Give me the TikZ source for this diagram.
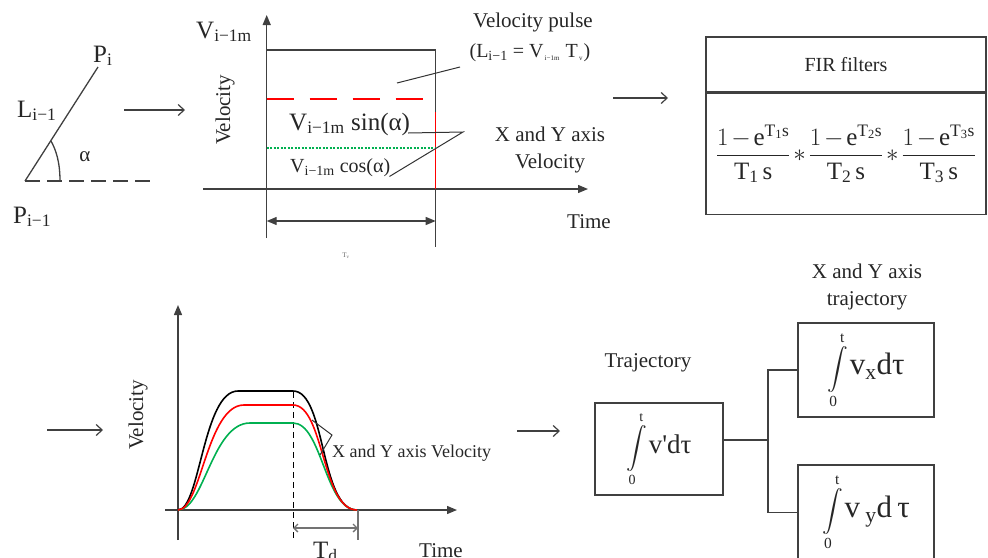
\RequirePackage{fix-cm}
\documentclass[tikz,border=0pt]{standalone}
\usepackage{amsmath}
\usepackage{fontspec}
\setmainfont{Liberation Serif}
\usetikzlibrary{arrows.meta}

\definecolor{velred}{RGB}{255,0,0}
\definecolor{velgreen}{RGB}{0,176,80}
\newcommand{\fs}[1]{\fontsize{#1}{\fpeval{1.25*#1}}\selectfont}
\newcommand{\tinysub}[1]{\raisebox{-0.3ex}{\fs{7}#1}}
\newcommand{\firfrac}[1]{\dfrac{1-\mathrm{e}^{\mathrm{T_{#1}s}}}{\mathrm{T_{#1}\,s}}}

\tikzset{
  ink/.style={draw=black!75, line width=1.3pt},
  axis/.style={ink, -{Triangle[length=10pt,width=8pt]}},
  dimline/.style={ink, {Triangle[length=10pt,width=8pt]}-{Triangle[length=10pt,width=8pt]}},
  flow/.style={draw=black!75, line width=1.2pt, -{Straight Barb[length=6pt,width=11pt]}},
  pointer/.style={draw=black!80, line width=1pt},
  box/.style={draw=black!75, line width=1.3pt, inner sep=0pt},
  curve/.style={line width=1.6pt},
}

\begin{document}
\begin{tikzpicture}[x=1pt, y=-1pt, every node/.style={inner sep=0pt, text=black!85}]
  \clip (0,0) rectangle (988,557);

  % --- segment P(i-1) -> P(i) ---
  \coordinate (pa) at (25,181);
  \coordinate (pb) at (98,67);
  \draw[ink] (pa) -- (pb);
  \draw[ink, dash pattern=on 15pt off 7pt] (pa) -- (153,181);
  \draw[ink] (60,181) .. controls (60,162) and (56,150) .. (51,141);
  \node[anchor=base west, font=\fs{25}] (pi) at (93,62) {P\textsubscript{i}};
  \node[anchor=base west, font=\fs{25}] (li) at (17,117) {L\textsubscript{i−1}};
  \node[font=\fs{21}] (alpha) at (85,157) {α};
  \node[anchor=base west, font=\fs{25}] (pprev) at (13,223) {P\textsubscript{i−1}};

  \draw[flow] (124,110) coordinate (a1s) -- (185,110) coordinate (a1e);

  % --- velocity pulse ---
  \draw[axis] (266.7,238) -- (266.7,15);
  \draw[axis] (203,189) -- (588,189);
  \draw[ink] (266.7,50) -- (435.7,50) -- (435.7,247);
  \draw[velred, line width=1.5pt, dash pattern=on 27pt off 16pt] (266.7,99) -- (432,99);
  \draw[velred, line width=1.5pt] (435.7,112) -- (435.7,189);
  \draw[velgreen, line width=1.3pt, dash pattern=on 2pt off 1.5pt] (266.7,148) -- (435.7,148);
  \draw[dimline] (266.7,221) -- (435.7,221);

  \node[anchor=base west, font=\fs{25}] (vmax) at (196,38) {V\textsubscript{i−1m}};
  \node[rotate=90, font=\fs{21}] (vlab1) at (225,110) {Velocity};
  \node[font=\fs{21}] (pulse) at (533,22) {Velocity pulse};
  \node[font=\fs{20}] (pulseeq) at (530,53) {(L\textsubscript{i−1} = V\tinysub{\,i−1m\,} T\tinysub{\,v\,})};
  \draw[pointer] (397,83) -- (460,67);
  \node[anchor=base west, font=\fs{25}] (vsin) at (289,130) {V\textsubscript{i−1m} sin(α)};
  \node[anchor=base west, font=\fs{20}] (vcos) at (290,172) {V\textsubscript{i−1m} cos(α)};
  \draw[pointer] ([xshift=-2pt,yshift=-3pt]vsin.base east) -- (463,132) -- ([xshift=-1pt]vcos.south east);
  \node[align=center, font=\fs{21}] (xyvel) at (550,150) {X and Y axis\\Velocity};
  \node[font=\fs{21}] (time1) at (589,222) {Time};
  \node[font=\fs{7}, text=black!60] (tv) at (346,256) {T\textsubscript{v}};

  \draw[flow] (613,98) coordinate (a2s) -- (668,98) coordinate (a2e);

  % --- FIR filters ---
  \node[box, minimum width=280, minimum height=55, font=\fs{20}] (firhead) at (846,64.5) {FIR filters};
  \node[box, minimum width=280, minimum height=121, anchor=north, font=\fs{25}] (firbody) at (firhead.south)
    {\medmuskip=2mu $\firfrac{1}*\firfrac{2}*\firfrac{3}$};

  \draw[flow] (47,430) coordinate (a3s) -- (103,430) coordinate (a3e);

  % --- filtered velocity ---
  \draw[axis] (178,540) -- (178,305);
  \draw[axis] (165,510) -- (457,510);
  \draw[black, line width=0.8pt, dash pattern=on 6pt off 4pt] (293,392) -- (293,540);
  \draw[black!55, line width=1.3pt] (358,510) -- (358,540);
  \draw[black!55, line width=1.3pt, {Straight Barb[length=4pt,width=8pt]}-{Straight Barb[length=4pt,width=8pt]}] (293,528) -- (358,528);
  \draw[curve, black] (178,510) .. controls (200,510) and (203,391) .. (238,391) -- (293,391)
    .. controls (326,391) and (320,510) .. (357,510);
  \draw[curve, velgreen] (178,510) .. controls (204,510) and (212,423) .. (250,423) -- (293,423)
    .. controls (322,423) and (325,510) .. (357,510);
  \draw[curve, velred] (178,510) .. controls (201,510) and (207,405) .. (244,405) -- (293,405)
    .. controls (324,405) and (322,510) .. (357,510);
  \node[rotate=90, font=\fs{21}] (vlab2) at (138,415) {Velocity};
  \node[anchor=west, font=\fs{18}] (xyvel2) at (332,453) {X and Y axis Velocity};
  \draw[pointer] (312,420) -- (332,435) -- (320,455);
  \node[anchor=base west, font=\fs{25}] (td) at (313,558) {T\textsubscript{d}};
  \node[anchor=base west, font=\fs{21}] (time2) at (419,557) {Time};

  \draw[flow] (517,431) coordinate (a4s) -- (560,431) coordinate (a4e);

  % --- trajectory ---
  \node[font=\fs{21}] (trajlab) at (648,363) {Trajectory};
  \node[box, minimum width=128, minimum height=92] (traj) at (659,449)
    {{\fs{20}$\displaystyle\int\limits_{\mathrm{0}}^{\mathrm{t}}$}\,{\fs{27}v\textquotesingle dτ}};
  \node[align=center, font=\fs{21}] (xylab) at (867,287) {X and Y axis\\trajectory};
  \node[box, minimum width=136, minimum height=94] (xtraj) at (866,370)
    {{\fs{22}$\displaystyle\int\limits_{\mathrm{0}}^{\mathrm{t}}$}\,{\fs{31}v\textsubscript{x}dτ}};
  \node[box, minimum width=136, minimum height=95] (ytraj) at (866,512.5)
    {{\fs{22}$\displaystyle\int\limits_{\mathrm{0}}^{\mathrm{t}}$}\,{\fs{31}v\,\textsubscript{y}d\,τ}};
  \coordinate (fork) at (768,440);
  \draw[ink] (traj.east |- fork) -- (fork);
  \draw[ink] (xtraj.west) -| (fork) |- (ytraj.west);
\end{tikzpicture}
\end{document}
